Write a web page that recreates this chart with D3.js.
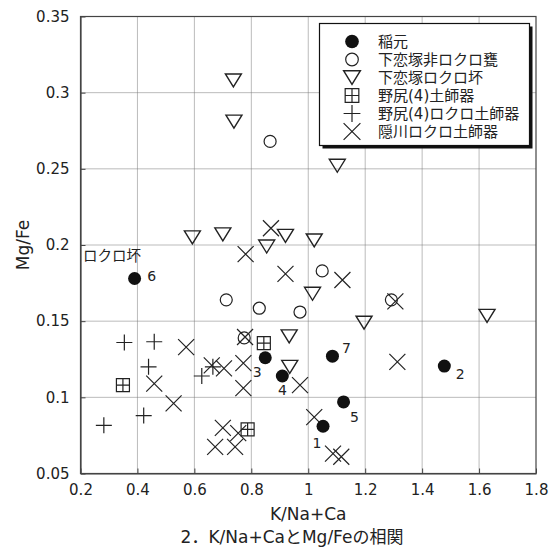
<!DOCTYPE html>
<html><head><meta charset="utf-8">
<script src="https://cdn.jsdelivr.net/npm/d3@7"></script>
<style>
html,body{margin:0;padding:0;background:#fff;}
text{font-family:"DejaVu Sans","Noto Sans CJK JP",sans-serif;fill:#222;}
</style></head>
<body><svg id="c" width="558" height="549"></svg>
<script>
// ---- data ----
const xTicks = [0.2,0.4,0.6,0.8,1,1.2,1.4,1.6,1.8];
const yTicks = [0.05,0.1,0.15,0.2,0.25,0.3,0.35];
const seriesNames = ["稲元","下恋塚非ロクロ甕","下恋塚ロクロ坏","野尻(4)土師器","野尻(4)ロクロ土師器","隠川ロクロ土師器"];
const inamoto = [[0.390,0.178],[1.478,0.1205],[0.849,0.126],[0.909,0.114],[1.124,0.097],[1.052,0.081],[1.085,0.127]];
const inamotoLabels = ["6","2","3","4","5","1","7"];
const shimokoizukaKame = [[0.866,0.268],[1.049,0.183],[0.712,0.164],[0.828,0.1585],[0.971,0.156],[0.775,0.139],[1.292,0.164]];
const shimokoizukaTsuki = [[0.737,0.308],[0.739,0.281],[1.102,0.252],[0.593,0.205],[0.700,0.207],[0.854,0.199],[0.920,0.206],[1.021,0.203],[1.015,0.168],[1.196,0.149],[1.628,0.1535],[0.933,0.140],[0.935,0.120]];
const nojiriHaji = [[0.349,0.108],[0.844,0.1356],[0.787,0.079]];
const nojiriRokuro = [[0.354,0.136],[0.459,0.1365],[0.439,0.120],[0.422,0.088],[0.282,0.0816],[0.626,0.114],[0.665,0.120]];
const onkawaRokuro = [[0.571,0.133],[0.459,0.109],[0.527,0.096],[0.661,0.121],[0.704,0.119],[0.772,0.1225],[0.772,0.106],[0.700,0.080],[0.673,0.0675],[0.743,0.0675],[0.754,0.0765],[0.778,0.1396],[0.971,0.108],[1.021,0.087],[1.087,0.063],[1.116,0.061],[0.869,0.211],[0.780,0.194],[0.920,0.181],[1.120,0.177],[1.306,0.163],[1.313,0.1233]];
const groupNote = "ロクロ坏";
const xTitle = "K/Na+Ca";
const yTitle = "Mg/Fe";
const caption = "2．K/Na+CaとMg/Feの相関";

// ---- layout ----
const svg = d3.select("#c");
const L = 80.5, R = 536, T = 16.5, B = 473.5;
const x = d3.scaleLinear().domain([0.2,1.8]).range([L,R]);
const y = d3.scaleLinear().domain([0.05,0.35]).range([B,T]);
const ink = "#222";

// grid
const grid = svg.append("g");
grid.selectAll(".gx").data(xTicks.slice(1,-1)).enter().append("line")
  .attr("x1",d=>x(d)).attr("x2",d=>x(d)).attr("y1",T).attr("y2",B)
  .attr("stroke","#777").attr("stroke-width",1).attr("stroke-dasharray","1,1");
grid.selectAll(".gy").data(yTicks.slice(1,-1)).enter().append("line")
  .attr("y1",d=>y(d)).attr("y2",d=>y(d)).attr("x1",L).attr("x2",R)
  .attr("stroke","#777").attr("stroke-width",1).attr("stroke-dasharray","1,1");

// axes
const xAxis = svg.append("g").attr("transform",`translate(0,${B})`)
  .call(d3.axisBottom(x).tickValues(xTicks).tickFormat(d3.format("")).tickSizeInner(-5).tickSizeOuter(0).tickPadding(11));
const yAxis = svg.append("g").attr("transform",`translate(${L},0)`)
  .call(d3.axisLeft(y).tickValues(yTicks).tickFormat(d3.format("")).tickSizeInner(-5).tickSizeOuter(0).tickPadding(11));
[xAxis,yAxis].forEach(a=>{
  a.select(".domain").attr("stroke","#444").attr("stroke-width",1.2);
  a.selectAll(".tick line").attr("stroke","#444");
  a.selectAll("text").attr("font-size",15).attr("fill","#333")
   .style("font-family",'"DejaVu Sans",sans-serif');
});
// frame top/right
svg.append("rect").attr("x",L).attr("y",T).attr("width",R-L).attr("height",B-T)
  .attr("fill","none").attr("stroke","#444").attr("stroke-width",1.2);

// titles
svg.append("text").attr("x",(L+R)/2).attr("y",520).attr("text-anchor","middle")
  .attr("font-size",17).text(xTitle);
svg.append("text").attr("transform",`translate(23,${(T+B)/2}) rotate(-90)`)
  .attr("text-anchor","middle").attr("dominant-baseline","central")
  .attr("font-size",17).text(yTitle);
svg.append("text").attr("x",292).attr("y",543).attr("text-anchor","middle")
  .attr("font-size",17).text(caption);

function drawSymbol(g, type, k){
  const s = k||1;
  if(type===0){
    g.append("circle").attr("r",6.5*s).attr("fill","#111");
  } else if(type===1){
    g.append("circle").attr("r",6*s).attr("fill","none").attr("stroke",ink).attr("stroke-width",1.2);
  } else if(type===2){
    const w=8*s, h=6.5*s;
    g.append("path").attr("d",`M${-w},${-h}L${w},${-h}L0,${h}Z`).attr("fill","none")
      .attr("stroke",ink).attr("stroke-width",1.4).attr("stroke-linejoin","miter");
  } else if(type===3){
    const a=6.5*s;
    g.append("path").attr("d",`M${-a},${-a}H${a}V${a}H${-a}Z M0,${-a}V${a} M${-a},0H${a}`)
      .attr("fill","none").attr("stroke",ink).attr("stroke-width",1.2);
  } else if(type===4){
    const a=8*s;
    g.append("path").attr("d",`M${-a},0H${a}M0,${-a}V${a}`).attr("fill","none")
      .attr("stroke",ink).attr("stroke-width",1.2);
  } else if(type===5){
    const a=8*s;
    g.append("path").attr("d",`M${-a},${-a}L${a},${a}M${a},${-a}L${-a},${a}`).attr("fill","none")
      .attr("stroke",ink).attr("stroke-width",1.2);
  }
}

const allSeries = [inamoto, shimokoizukaKame, shimokoizukaTsuki, nojiriHaji, nojiriRokuro, onkawaRokuro];
const drawOrder = [5,4,3,2,1,0];
drawOrder.forEach(i=>{
  const gs = svg.append("g");
  allSeries[i].forEach(d=>{
    const g = gs.append("g").attr("transform",`translate(${x(d[0])},${y(d[1])})`);
    drawSymbol(g,i,1);
  });
});

// point labels
const labelOffset = {"6":[17,-3],"2":[16,8],"3":[-8,14],"4":[0,14],"5":[11,15],"1":[-6,17],"7":[14,-8]};
inamoto.forEach((d,i)=>{
  const lab = inamotoLabels[i], o = labelOffset[lab];
  svg.append("text").attr("x",x(d[0])+o[0]).attr("y",y(d[1])+o[1])
    .attr("text-anchor","middle").attr("dominant-baseline","central")
    .attr("font-size",14).text(lab);
});
svg.append("text").attr("x",83).attr("y",261).attr("font-size",14.5)
  .style("font-family",'"Noto Sans CJK JP",sans-serif').text(groupNote);

// legend
const lg = svg.append("g");
const lx=319.5, ly=23.5, lw=210, lh=122;
lg.append("rect").attr("x",lx+3).attr("y",ly+3).attr("width",lw).attr("height",lh).attr("fill","#111");
lg.append("rect").attr("x",lx).attr("y",ly).attr("width",lw).attr("height",lh).attr("fill","#fff")
  .attr("stroke","#111").attr("stroke-width",1.2);
seriesNames.forEach((n,i)=>{
  const yy = 41.5 + i*18;
  const g = lg.append("g").attr("transform",`translate(352,${yy})`);
  drawSymbol(g,i,1.05);
  lg.append("text").attr("x",378).attr("y",yy).attr("dominant-baseline","central")
    .attr("font-size",15).text(n);
});
</script></body></html>
